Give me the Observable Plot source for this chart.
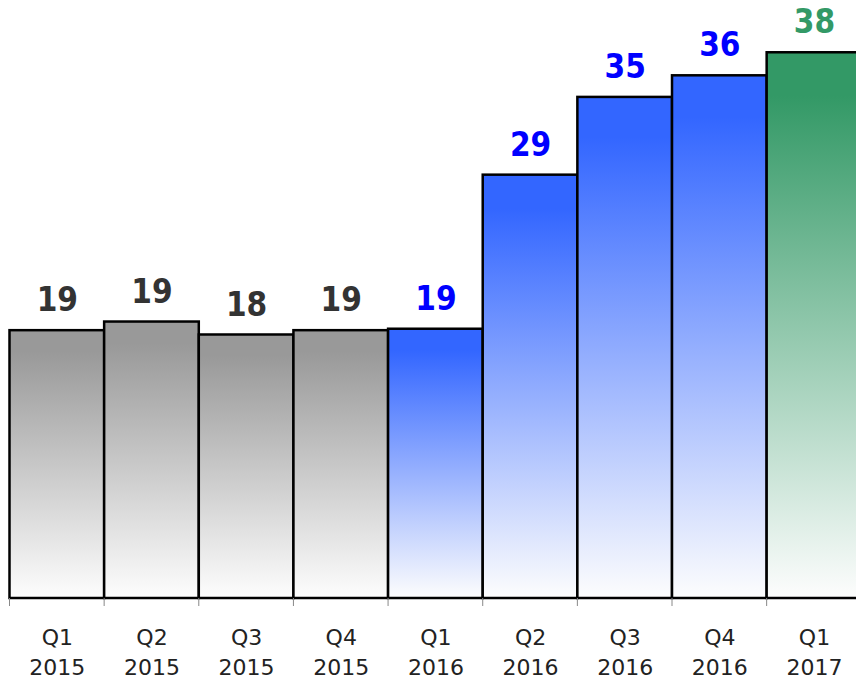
<!DOCTYPE html>
<html>
<head>
<meta charset="utf-8">
<script src="https://cdn.jsdelivr.net/npm/d3@7"></script>
<script src="https://cdn.jsdelivr.net/npm/@observablehq/plot@0.6"></script>
<style>
  html, body { margin: 0; padding: 0; background: #fff; overflow: hidden; }
  #chart svg { display: block; }
</style>
</head>
<body>
<div id="chart"></div>
<script>
const categories = ["Q1 2015", "Q2 2015", "Q3 2015", "Q4 2015", "Q1 2016", "Q2 2016", "Q3 2016", "Q4 2016", "Q1 2017"];
const values = [18.6, 19.2, 18.3, 18.6, 18.7, 29.4, 34.8, 36.3, 37.9];
const groups = ["2015", "2015", "2015", "2015", "2016", "2016", "2016", "2016", "2017"];

const gradientTop = {"2015": "#999999", "2016": "#3366ff", "2017": "#339966"};
const labelColor = {"2015": "#333333", "2016": "#0000ff", "2017": "#339966"};

const data = categories.map((c, i) => ({cat: c, value: values[i], group: groups[i]}));

const xRange = [9.5, 861.3];

const barMarks = Object.keys(gradientTop).map(g =>
  Plot.barY(data, {
    filter: d => d.group === g,
    x: "cat", y: "value",
    fill: `url(#grad${g})`,
    stroke: "#000", strokeWidth: 2.5
  })
);

const chart = Plot.plot({
  width: 856,
  height: 680,
  marginTop: 0, marginBottom: 82, marginLeft: 0, marginRight: 0,
  x: {domain: categories, range: xRange, padding: 0, round: false, label: null, axis: null},
  y: {domain: [0, 41.53], range: [598, 0], axis: null},
  style: {background: "#fff", overflow: "hidden"},
  marks: [
    ...barMarks,
    Plot.text(data, {
      x: "cat", y: 0,
      text: d => d.cat.replace(" ", "\n"),
      dy: 25, lineAnchor: "top", lineHeight: 1.36,
      fontSize: 22, fontFamily: "DejaVu Sans", fill: "#222"
    }),
    Plot.text(data, {
      x: "cat", y: "value",
      text: d => d3.format(".0f")(d.value),
      fill: d => labelColor[d.group],
      dy: -30, lineAnchor: "middle",
      fontSize: 33, fontWeight: "bold",
      fontFamily: "DejaVu Sans Condensed, DejaVu Sans"
    })
  ]
});

const xs = chart.scale("x");
const ys = chart.scale("y");
const svg = d3.select(chart);

const defs = svg.insert("defs", ":first-child");
for (const g of Object.keys(gradientTop)) {
  const lg = defs.append("linearGradient")
    .attr("id", `grad${g}`)
    .attr("x1", 0).attr("y1", 0).attr("x2", 0).attr("y2", 1);
  lg.append("stop").attr("offset", "0%").attr("stop-color", gradientTop[g]);
  lg.append("stop").attr("offset", "8%").attr("stop-color", gradientTop[g]);
  lg.append("stop").attr("offset", "100%").attr("stop-color", "#fdfdfd");
}

// tick marks at band boundaries, positioned through the x scale
const base = ys.apply(0);
const ticks = svg.append("g").attr("stroke", "#888").attr("stroke-width", 1);
categories.forEach(c => {
  const x0 = xs.apply(c); // band start
  ticks.append("line").attr("x1", x0).attr("x2", x0).attr("y1", base).attr("y2", base + 8);
});

document.getElementById("chart").appendChild(chart);
</script>
</body>
</html>
